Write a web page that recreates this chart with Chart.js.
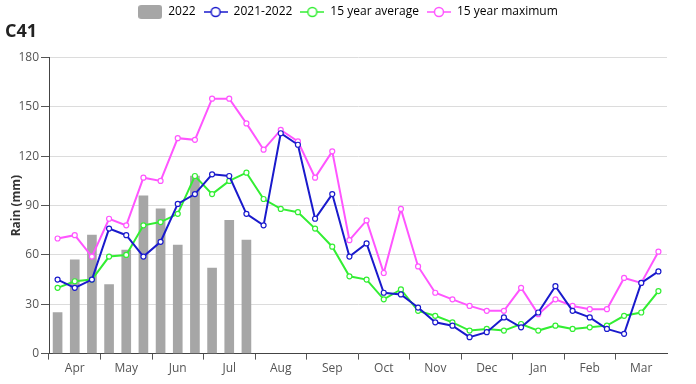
<!DOCTYPE html>
<html>
<head>
<meta charset="utf-8">
<script src="https://cdn.jsdelivr.net/npm/chart.js@4.4.1/dist/chart.umd.min.js"></script>
<style>
  html, body { margin: 0; padding: 0; background: #fff; }
  #wrap { width: 696px; height: 384px; }
</style>
</head>
<body>
<div id="wrap"><canvas id="myChart" width="696" height="384"></canvas></div>
<script>
// 36 dekades, avril -> mars
const months = ['Apr', 'May', 'Jun', 'Jul', 'Aug', 'Sep', 'Oct', 'Nov', 'Dec', 'Jan', 'Feb', 'Mar'];
const labels = [];
months.forEach(m => { labels.push(m + ' 1', m + ' 2', m + ' 3'); });

const yTicks = [0, 30, 60, 90, 120, 150, 180];

const rain2022 = [25, 57, 72, 42, 63, 96, 88, 66, 108, 52, 81, 69];

const rain2021_2022 = [45, 40, 45, 76, 72, 59, 68, 91, 97, 109, 108, 85,
    78, 134, 127, 82, 97, 59, 67, 37, 36, 28, 19, 17,
    10, 13, 22, 16, 25, 41, 26, 22, 15, 12, 43, 50];

const avg15 = [40, 44, 45, 59, 60, 78, 80, 85, 108, 97, 105, 110,
    94, 88, 86, 76, 65, 47, 45, 33, 39, 26, 23, 19,
    14, 15, 14, 18, 14, 17, 15, 16, 17, 23, 25, 38];

const max15 = [70, 72, 59, 82, 78, 107, 105, 131, 130, 155, 155, 140,
    124, 136, 129, 107, 123, 69, 81, 49, 88, 53, 37, 33,
    29, 26, 26, 40, 24, 33, 29, 27, 27, 46, 43, 62];

const blue = '#1a1acc';
const green = '#33ee33';
const pink = '#ff55ff';
const grey = '#a6a6a6';

// icones de la légende : trait + rond
function lineIcon(col) {
    const c = document.createElement('canvas');
    c.width = 24; c.height = 12;
    const ctx = c.getContext('2d');
    ctx.strokeStyle = col;
    ctx.lineWidth = 1.5;
    ctx.beginPath(); ctx.moveTo(0, 6); ctx.lineTo(24, 6); ctx.stroke();
    ctx.fillStyle = '#fff';
    ctx.beginPath(); ctx.arc(12, 6, 4.5, 0, Math.PI * 2); ctx.fill(); ctx.stroke();
    return c;
}
function boxIcon(col) {
    const c = document.createElement('canvas');
    c.width = 24; c.height = 14;
    const ctx = c.getContext('2d');
    ctx.fillStyle = col;
    ctx.beginPath();
    ctx.roundRect(0, 0, 24, 14, 3);
    ctx.fill();
    return c;
}
const icons = [boxIcon(grey), lineIcon(blue), lineIcon(green), lineIcon(pink)];

function lineSet(label, values, col) {
    return {
        type: 'line',
        label: label,
        data: values,
        borderColor: col,
        backgroundColor: '#fff',
        borderWidth: 2,
        pointRadius: 2.5,
        pointBorderWidth: 1.2,
        pointBackgroundColor: '#fff',
        pointBorderColor: col,
        tension: 0,
        yAxisID: 'y',
        order: 0
    };
}

const config = {
    type: 'bar',
    data: {
        labels: labels,
        datasets: [{
            label: '2022',
            data: rain2022,
            backgroundColor: grey,
            barThickness: 9,
            yAxisID: 'y',
            order: 1
        },
        lineSet('2021-2022', rain2021_2022, blue),
        lineSet('15 year average', avg15, green),
        lineSet('15 year maximum', max15, pink)]
    },
    options: {
        responsive: false,
        animation: false,
        layout: { padding: { left: 5, right: 5, top: -2, bottom: 6 } },
        scales: {
            x: {
                offset: true,
                grid: {
                    offset: true,
                    drawOnChartArea: false,
                    tickLength: 6,
                    tickColor: (ctx) => (ctx.index % 3 === 0 ? '#555' : 'rgba(0,0,0,0)')
                },
                border: { color: '#444', width: 1 },
                ticks: {
                    autoSkip: false,
                    maxRotation: 0,
                    padding: 2,
                    color: '#555',
                    font: { family: 'Open Sans', size: 12 },
                    callback: function (val, i) { return i % 3 === 1 ? months[(i - 1) / 3] : ''; }
                }
            },
            y: {
                min: 0,
                max: 180,
                afterBuildTicks: (axis) => { axis.ticks = yTicks.map(v => ({ value: v })); },
                afterFit: (axis) => { axis.width = 44; },
                grid: { color: '#dcdcdc', tickColor: '#555', tickLength: 8 },
                border: { color: '#444', width: 1 },
                ticks: {
                    color: '#555',
                    padding: 2,
                    font: { family: 'Open Sans', size: 12 }
                },
                title: {
                    display: true,
                    text: 'Rain (mm)',
                    color: '#333',
                    padding: { top: 4, bottom: 0 },
                    font: { family: 'Open Sans', size: 12, weight: 'bold' }
                }
            },
            // axe vide à droite, juste pour la marge
            yRight: {
                position: 'right',
                display: true,
                min: 0,
                max: 180,
                afterFit: (axis) => { axis.width = 24; },
                grid: { display: false },
                border: { display: false },
                ticks: { display: false }
            }
        },
        plugins: {
            legend: {
                position: 'top',
                weight: 3000,
                labels: {
                    usePointStyle: true,
                    pointStyleWidth: 24,
                    boxHeight: 12,
                    padding: 8,
                    color: '#444',
                    font: { family: 'Open Sans', size: 12 },
                    sort: (a, b) => a.datasetIndex - b.datasetIndex,
                    generateLabels: (chart) => chart.data.datasets.map((ds, i) => ({
                        text: ds.label,
                        pointStyle: icons[i],
                        fillStyle: 'rgba(0,0,0,0)',
                        strokeStyle: 'rgba(0,0,0,0)',
                        lineWidth: 0,
                        hidden: false,
                        datasetIndex: i
                    }))
                }
            },
            title: {
                display: true,
                text: 'C41',
                align: 'start',
                color: '#222',
                padding: { top: -7, bottom: 15 },
                font: { family: 'Open Sans', size: 18, weight: 'bold' }
            },
            tooltip: { enabled: false }
        }
    }
};

let myChart = new Chart(document.getElementById('myChart'), config);
</script>
</body>
</html>
